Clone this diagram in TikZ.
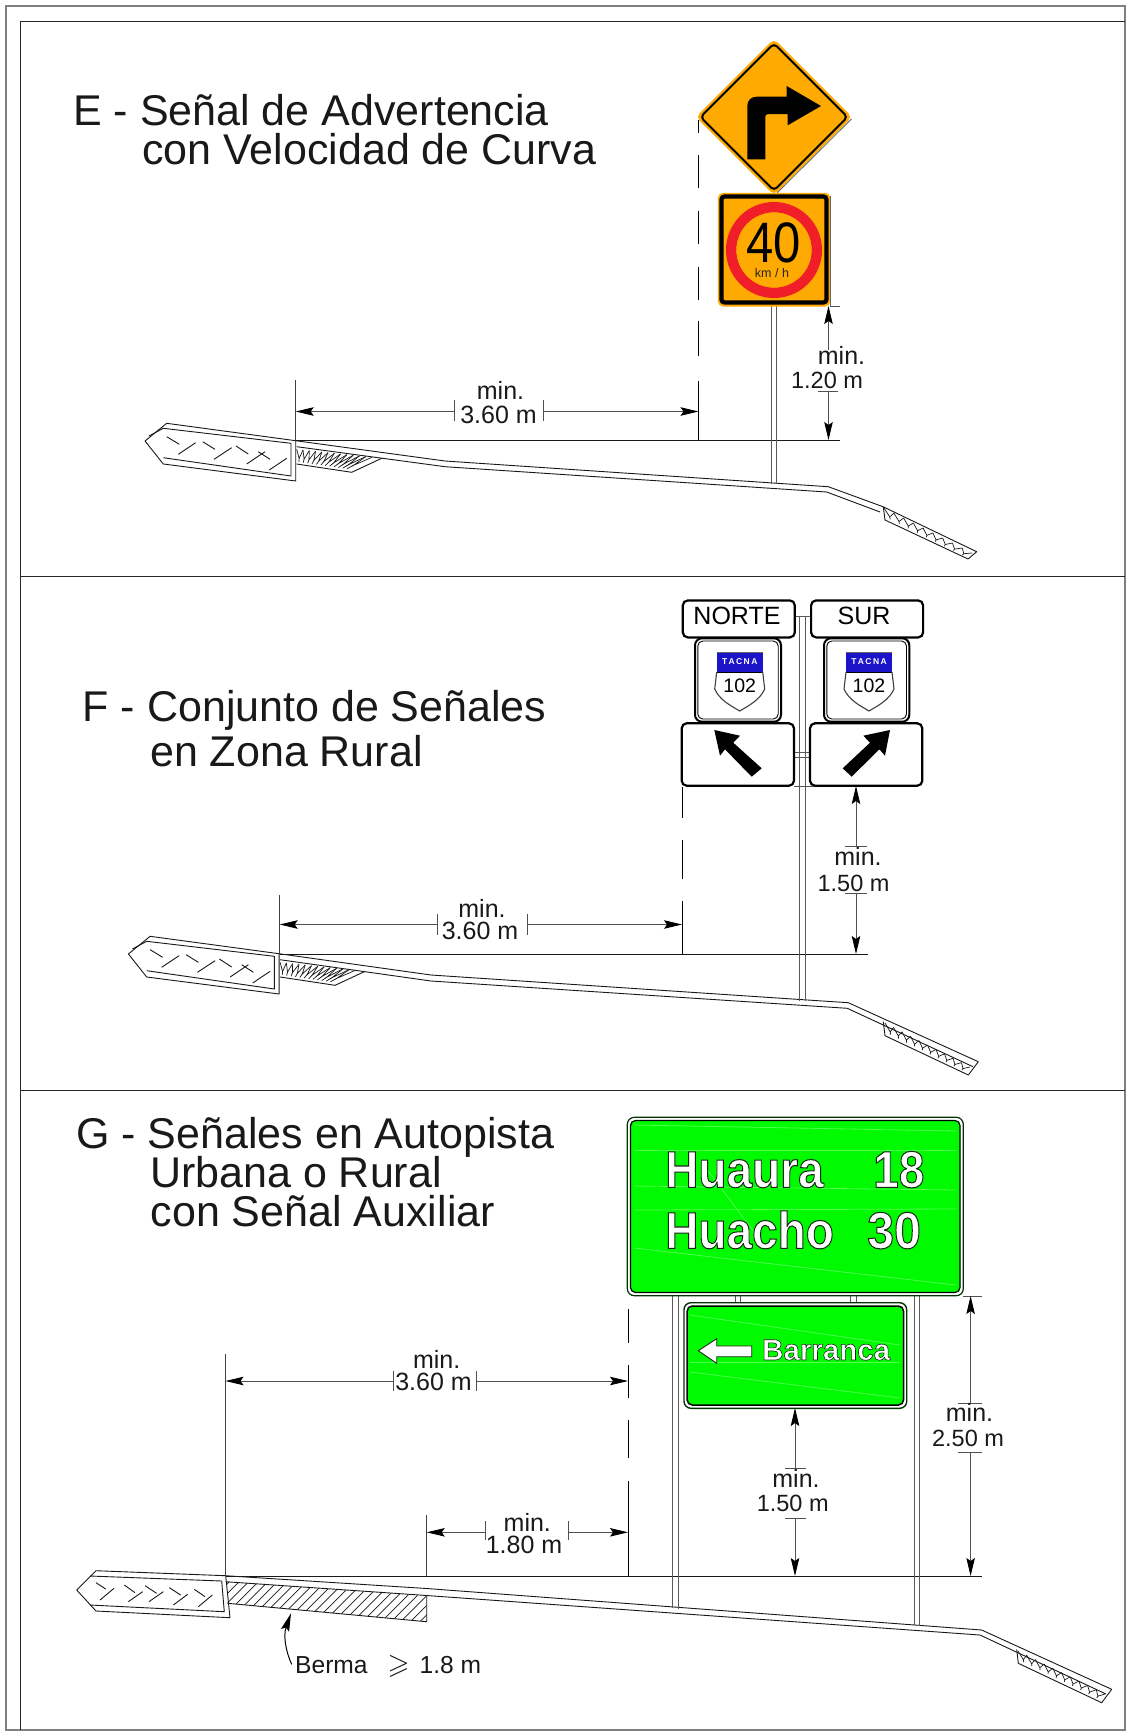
\documentclass[tikz,border=0pt]{standalone}
\usepackage{fontspec}
\usepackage{amssymb}
\usepackage{graphicx}
\setmainfont{Liberation Sans}
\newfontfamily\outlinefont[FakeBold=2]{Liberation Sans Bold}
\newfontfamily\routebold{Liberation Sans Bold}
\usetikzlibrary{arrows.meta,calc}
\definecolor{signorange}{HTML}{FFAA00}
\definecolor{signgreen}{HTML}{00FA00}
\definecolor{signstreak}{HTML}{50FF50}
\definecolor{signred}{HTML}{F01E28}
\definecolor{signblue}{HTML}{1C14C8}
\definecolor{dimgrey}{HTML}{505050}
\tikzset{
  x=1pt,y=-1pt,
  framegrey/.style={draw=black!50,line width=1.3},
  frameblack/.style={draw=black!85,line width=1},
  roadline/.style={draw=black!90,line width=.9,line join=round},
  hatchline/.style={draw=black!90,line width=.7},
  dimline/.style={draw=dimgrey,line width=.9},
  extline/.style={draw=black!75,line width=.9},
  dimarrow/.style={dimline,-{Stealth[length=18pt,width=8.5pt,inset=3pt,black]}},
  dashseg/.style={draw=black,line width=1},
  postline/.style={draw=black!65,line width=1},
  title/.style={anchor=base west,inner sep=0,font=\fontsize{43}{43}\selectfont,text=black!90},
  dimlabel/.style={anchor=base,inner sep=0,font=\fontsize{25}{25}\selectfont,text=black!90},
  dimlabelv/.style={anchor=base,inner sep=0,font=\fontsize{23.5}{25}\selectfont,text=black!90},
  whitebox/.style={draw=black,fill=white,line width=2.2,rounded corners=5pt},
  signtxt/.style={anchor=base west,inner sep=0,text=white},
  streak/.style={draw=signstreak,line width=.8},
}
% Y-shaped marks between edge a-b and edge d-c
\newcommand{\ymarks}[5]{%
  \foreach \i in {1,...,#5}{%
    \pgfmathsetmacro\ta{(\i-1)/#5}\pgfmathsetmacro\tb{(\i-.5)/#5}\pgfmathsetmacro\tc{\i/#5}%
    \coordinate (ym) at ($($(#1)!\tb!(#2)$)!.6!($(#4)!\tb!(#3)$)$);
    \draw[hatchline] ($(#1)!\ta!(#2)$) -- (ym) -- ($(#1)!\tc!(#2)$);
    \draw[hatchline] (ym) -- ($(ym)!.6!($(#4)!\tb!(#3)$)$);
  }%
}
\newcommand{\shieldsign}[2]{%
  \fill[signblue] (#1-23,652) rectangle (#1+23,672);
  \draw[draw=black!60,line width=.9] (#1-23,652) -- (#1+23,652);
  \draw[draw=black,line width=.8] (#1-23,672) -- (#1+23,672);
  \draw[draw=black!75,line width=1.1] (#1-23,672) -- (#1-25,689) .. controls (#1-20,700) and (#1-10,705) .. (#1,711) .. controls (#1+10,705) and (#1+20,700) .. (#1+25,689) -- (#1+23,672);
  \node[anchor=center,inner sep=0,text=white,font=\fontsize{8.5}{9}\selectfont\routebold] (tacna#2) at (#1,662) {T\,A\,C\,N\,A};
  \node[anchor=base,inner sep=0,font=\fontsize{19.5}{20}\selectfont] (route#2) at (#1,692) {102};
}
\begin{document}
\begin{tikzpicture}
\useasboundingbox (0,0) rectangle (1132,1733);
\fill[white] (0,0) rectangle (1132,1733);
% frames
\draw[framegrey] (6,6) -- (1125,6) -- (1125,1730) -- (6,1730) -- cycle;
\draw[frameblack] (20,21) -- (1125,21);
\draw[frameblack] (20,21) -- (20,1730);
\draw[frameblack] (20,576) -- (1125,576);
\draw[frameblack] (20,1090) -- (1125,1090);

% ============ titles
\node[title] (te1) at (73,125) {E - Señal de Advertencia};
\node[title] (te2) at (142,164) {con Velocidad de Curva};
\node[title] (tf1) at (82.5,721) {F - Conjunto de Señales};
\node[title] (tf2) at (150,766) {en Zona Rural};
\node[title] (tg1) at (76,1148) {G - Señales en Autopista};
\node[title] (tg2) at (150,1187) {Urbana o Rural};
\node[title] (tg3) at (150.5,1226) {con Señal Auxiliar};

% ============ SECTION E road
\draw[roadline] (145,441) -- (166.7,423.3) -- (295.7,440.7) -- (445,461) -- (828.3,486.7) -- (883,506.7) -- (976.7,551.7) -- (968,559) -- (885,520) -- (883.3,506.7);
\draw[roadline] (296.7,446.7) -- (445,466.7) -- (826.7,492) -- (880,512);
\draw[roadline] (145,441) -- (163.3,464) -- (295.7,481) -- (295.7,440.7);
\draw[roadline] (163.3,428.3) -- (291,443.3) -- (291,476) -- (163.3,457.7);
\draw[roadline] (163.3,428.3) -- (149,436);
\foreach \a/\b/\c/\d in {166.7/436.7/179.3/444.3,178.3/454.3/195.7/442.7,202.7/441.7/215/449.3,214/459.3/231.7/447.7,236/446/248.3/454,246.7/464/265/451.7,258.3/451.7/270/459.3,269.3/470/286.7/458.3}
  \draw[roadline] (\a,\b) -- (\c,\d);
\coordinate (ea) at (296.7,449.3); \coordinate (eb) at (372,457.3); \coordinate (ec) at (345,471.3); \coordinate (ed) at (296.7,464);
\draw[roadline] (296.7,464) -- (351.7,472.3) -- (381.7,458.3);
\ymarks{ea}{eb}{ec}{ed}{12}
\coordinate (ef) at (884,508); \coordinate (eg) at (972,553); \coordinate (eh) at (966,558); \coordinate (ei) at (886,519);
\ymarks{ef}{eg}{eh}{ei}{9}
% E ground + dims
\draw[roadline,line width=1] (295.7,440) -- (840,440);
\draw[extline] (295.7,380) -- (295.7,440);
\draw[postline] (771.7,306) -- (771.7,483.5);
\draw[postline] (776.7,306) -- (776.7,484);
\foreach \a/\b in {120/132.7,155/188,210.7/244.3,266.7/300,321/356,381/440}
  \draw[dashseg] (698.5,\a) -- (698.5,\b);
\draw[dimarrow] (454.5,411.5) -- (295.7,411.5);
\draw[dimarrow] (543,411.5) -- (698.5,411.5);
\draw[dimline] (454.5,400) -- (454.5,421);
\draw[dimline] (543,400) -- (543,421);
\node[dimlabel] (emin) at (500.5,399) {min.};
\node[dimlabel] (edim) at (498.5,423) {3.60 m};
\draw[dimline] (830,306) -- (840,306);
\draw[dimarrow] (828.5,350) -- (828.5,306);
\draw[dimarrow] (828.5,391.7) -- (828.5,440);
\draw[dimline] (818,391.7) -- (838,391.7);
\node[dimlabel] (emin2) at (841.5,364) {min.};
\node[dimlabelv] (edim2) at (827,388.5) {1.20 m};
% E signs
\draw[fill=signorange,draw=signorange,line width=1,rounded corners=5pt] (774,39.5) -- (851.5,117) -- (774,194.5) -- (696.5,117) -- cycle;
\draw[draw=black,line width=2,rounded corners=4pt] (774,43.5) -- (847.5,117) -- (774,190.5) -- (700.5,117) -- cycle;
\draw[draw=black!60,line width=.8] (777,193) -- (851.5,119);
\fill[black] (747.3,159.3) -- (765.3,159.3) -- (765.3,116.7) .. controls (765.3,115) and (766.5,114) .. (768.3,114) -- (787.7,114) -- (787.7,125.3) -- (821,106) -- (786.7,86) -- (786.7,96.7) -- (756.7,96.7) .. controls (751,96.7) and (747.3,100.5) .. (747.3,106) -- cycle;
\draw[fill=signorange,draw=signorange,line width=1,rounded corners=5pt] (718.3,193.3) rectangle (830,306);
\draw[draw=black,line width=4.2,rounded corners=3pt] (721.5,196.5) rectangle (826.5,302.5);
\draw[draw=black!60,line width=.8] (830.3,196) -- (830.3,306);
\fill[signred,even odd rule] (774,250) circle[radius=48] (774,250) circle[radius=37.7];
\draw[draw=signorange,line width=.8] (774,250) circle[radius=37];
\node[anchor=base,inner sep=0,font=\fontsize{57}{57}\selectfont] (speed) at (773.5,262) {\scalebox{.86}[1]{40}};
\node[anchor=base,inner sep=0,font=\fontsize{12.5}{13}\selectfont,text=black!85] (kmh) at (772,277.5) {km / h};

% ============ SECTION F road
\begin{scope}[shift={(-16.6,513)}]
\draw[roadline] (145,441) -- (166.7,423.3) -- (295.7,440.7);
\draw[roadline] (145,441) -- (163.3,464) -- (295.7,481) -- (295.7,440.7);
\draw[roadline] (163.3,428.3) -- (291,443.3) -- (291,476) -- (163.3,457.7);
\draw[roadline] (163.3,428.3) -- (149,436);
\foreach \a/\b/\c/\d in {166.7/436.7/179.3/444.3,178.3/454.3/195.7/442.7,202.7/441.7/215/449.3,214/459.3/231.7/447.7,236/446/248.3/454,246.7/464/265/451.7,258.3/451.7/270/459.3,269.3/470/286.7/458.3}
  \draw[roadline] (\a,\b) -- (\c,\d);
\coordinate (fa) at (296.7,449.3); \coordinate (fb) at (372,457.3); \coordinate (fc) at (345,471.3); \coordinate (fd) at (296.7,464);
\draw[roadline] (296.7,464) -- (351.7,472.3) -- (381.7,458.3);
\ymarks{fa}{fb}{fc}{fd}{12}
\end{scope}
\draw[roadline] (279.1,953.7) -- (431,975) -- (848.3,1002.7) -- (978.3,1061.7) -- (968.3,1075) -- (885,1035.7) -- (883.3,1021.7);
\draw[roadline] (280,959.7) -- (431,981) -- (847.3,1008.3) -- (973,1066.7);
\coordinate (ff) at (885,1023); \coordinate (fg) at (970,1067); \coordinate (fh) at (965,1073); \coordinate (fi) at (887,1034.5);
\ymarks{ff}{fg}{fh}{fi}{10}
\draw[roadline,line width=1] (279.7,954) -- (868,954);
\draw[extline] (279.7,895) -- (279.7,954);
\draw[postline] (799.3,617) -- (799.3,1000.5);
\draw[postline] (805,617) -- (805,1001);
\foreach \a/\b in {787/818,840/879,901/954}
  \draw[dashseg] (682,\a) -- (682,\b);
\draw[dimarrow] (437,924.5) -- (279.7,924.5);
\draw[dimarrow] (527,924.5) -- (682,924.5);
\draw[dimline] (437,914) -- (437,935);
\draw[dimline] (527,914) -- (527,935);
\node[dimlabel] (fmin) at (482,917) {min.};
\node[dimlabel] (fdim) at (480,939.5) {3.60 m};
\draw[dimarrow] (856,846) -- (856,786);
\draw[dimarrow] (856,893) -- (856,954);
\draw[dimline] (845,846) -- (867,846);
\draw[dimline] (845,893) -- (867,893);
\node[dimlabel] (fmin2) at (858,865.5) {min.};
\node[dimlabelv] (fdim2) at (853.5,891) {1.50 m};
\draw[dimline] (794,786) -- (867,786);
% F signs
\draw[postline] (794,616.7) -- (810,616.7);
\draw[postline] (794,752.7) -- (810,752.7);
\draw[postline] (794,757.7) -- (810,757.7);
\node[whitebox,minimum width=112,minimum height=37,inner sep=0,anchor=north west] (norte) at (681.7,599.3) {};
\node[anchor=base,inner sep=0,font=\fontsize{25}{25}\selectfont] (nortet) at (737,624) {NORTE};
\node[whitebox,minimum width=112,minimum height=37,inner sep=0,anchor=north west] (sur) at (810,599.3) {};
\node[anchor=base,inner sep=0,font=\fontsize{25}{25}\selectfont] (surt) at (864,624) {SUR};
\foreach \a/\b in {695/781,824/909.3}{
  \draw[draw=black,fill=white,line width=2,rounded corners=7pt] (\a,638.3) rectangle (\b,721.7);
  \draw[draw=black,line width=.9,rounded corners=5pt] (\a+2.8,641) rectangle (\b-2.8,719);
}
\shieldsign{739.7}{a}
\shieldsign{869}{b}
\draw[whitebox] (681.7,723.3) rectangle (794,785.7);
\draw[whitebox] (810,723.3) rectangle (922.3,785.7);
\fill[black] (714.3,730) -- (740,735.7) -- (733.3,742.7) -- (761.7,768.3) -- (751.7,776.7) -- (725,749.3) -- (720,755.7) -- cycle;
\fill[black] (890,730) -- (863.3,735.7) -- (870,742.7) -- (842.7,768.3) -- (851.7,776.7) -- (879.3,749.3) -- (885,755.7) -- cycle;

% ============ SECTION G road
\draw[roadline] (76.7,1590) -- (96,1570.7) -- (225.7,1575.7) -- (426.7,1588.5) -- (981.7,1630) -- (1111.7,1689.3) -- (1101.7,1702.7) -- (1018.3,1663.3) -- (1016.7,1649.3);
\draw[roadline] (225.7,1581.7) -- (426.7,1595.5) -- (980,1635) -- (1106,1694);
\draw[roadline] (76.7,1590) -- (96,1611) -- (230,1617.7) -- (225.7,1575.7);
\draw[roadline] (90,1576) -- (221.7,1581) -- (224.3,1611.7) -- (90,1605);
\foreach \a/\b/\c/\d in {108/98/137/117,120/150/162/115,193/105/225/128,205/155/248/125,255/107/290/130,267/155/310/125,328/113/362/135,340/165/383/133,403/118/435/140,415/170/457/135}
  \draw[roadline] ($(60,1550)+(\a/3,\b/3)$) -- ($(60,1550)+(\c/3,\d/3)$);
\begin{scope}
  \clip (226.7,1581.7) -- (426.7,1596) -- (426.7,1621.7) -- (227.7,1603.3) -- cycle;
  \foreach \k in {-4,...,24}
    \draw[hatchline] (210+\k*9.6,1630) -- (262+\k*9.6,1578);
\end{scope}
\draw[roadline] (227.7,1603.3) -- (426.7,1621.7) -- (426.7,1596);
\coordinate (ga) at (1018,1651); \coordinate (gb) at (1105,1694); \coordinate (gc) at (1100,1701); \coordinate (gd) at (1020,1662);
\ymarks{ga}{gb}{gc}{gd}{10}
\draw[roadline,line width=1] (225.5,1576) -- (982,1576);
\draw[extline] (225.5,1354) -- (225.5,1576);
\draw[extline] (426.7,1515) -- (426.7,1576);
\draw[postline] (672.7,1296) -- (672.7,1608);
\draw[postline] (678.3,1296) -- (678.3,1609);
\draw[postline] (914,1296) -- (914,1625);
\draw[postline] (919,1296) -- (919,1625.5);
\draw[postline] (735,1296) -- (735,1303);
\draw[postline] (740.7,1296) -- (740.7,1303);
\draw[postline] (850.7,1296) -- (850.7,1303);
\draw[postline] (856.3,1296) -- (856.3,1303);
\foreach \a/\b in {1309/1343,1365/1398,1420/1458,1481/1576}
  \draw[dashseg] (628,\a) -- (628,\b);
\draw[dimarrow] (393.5,1381) -- (225.5,1381);
\draw[dimarrow] (476.5,1381) -- (628,1381);
\draw[dimline] (393.5,1371) -- (393.5,1391);
\draw[dimline] (476.5,1371) -- (476.5,1391);
\node[dimlabel] (gmin) at (436.7,1368) {min.};
\node[dimlabel] (gdim) at (433.5,1390.5) {3.60 m};
\draw[dimarrow] (485,1532.3) -- (426.7,1532.3);
\draw[dimarrow] (568,1532.3) -- (628,1532.3);
\draw[dimline] (485,1521) -- (485,1540);
\draw[dimline] (568,1521) -- (568,1540);
\node[dimlabel] (gmin2) at (527.3,1531) {min.};
\node[dimlabel] (gdim2) at (524,1553) {1.80 m};
\draw[dimarrow] (795,1468) -- (795,1408);
\draw[dimarrow] (795,1518) -- (795,1576);
\draw[dimline] (785,1468) -- (806,1468);
\draw[dimline] (785,1518) -- (806,1518);
\node[dimlabel] (gmin3) at (796,1487) {min.};
\node[dimlabelv] (gdim3) at (792.7,1511.5) {1.50 m};
\draw[dimline] (963,1296) -- (982,1296);
\draw[dimarrow] (970.6,1403) -- (970.6,1296);
\draw[dimarrow] (970.6,1452.7) -- (970.6,1576);
\draw[dimline] (958,1403) -- (982,1403);
\draw[dimline] (958,1452.7) -- (982,1452.7);
\node[dimlabel] (gmin4) at (969.5,1421.5) {min.};
\node[dimlabelv] (gdim4) at (968,1446.5) {2.50 m};
% Berma
\node[anchor=base west,inner sep=0,font=\fontsize{24.6}{25}\selectfont,text=black!90] (berma) at (295,1673.3) {Berma\hspace{20pt}\scalebox{1.15}{$\geqslant$}\hspace{10pt}1.8 m};
\draw[draw=black,line width=1,-{Stealth[length=18pt,width=8.5pt,inset=3pt,black]}] (291.7,1664.3) .. controls (286,1652) and (283,1636) .. (291,1613.3);
% G signs
\draw[draw=black!80!green,fill=white,line width=1.2,rounded corners=7pt] (627.3,1117.3) rectangle (963.3,1295.7);
\draw[draw=black,fill=signgreen,line width=1.2,rounded corners=5pt] (630.5,1120.5) rectangle (960,1292.5);
\foreach \a/\b/\c/\d in {634/1125/956/1131,634/1150/956/1150,634/1186/956/1190,634/1210/956/1209,634/1248/956/1285,700/1160/760/1240}
  \draw[streak] (\a,\b) -- (\c,\d);
\draw[draw=black!80!green,fill=white,line width=1.4,rounded corners=7pt] (684,1302.7) rectangle (906.7,1408.3);
\draw[draw=black,fill=signgreen,line width=1.5,rounded corners=5pt] (687.2,1306) rectangle (903.5,1405);
\foreach \a/\b/\c/\d in {690/1315/900/1345,690/1362/900/1362,690/1372/900/1398}
  \draw[streak] (\a,\b) -- (\c,\d);
\node[signtxt,font=\fontsize{46}{46}\selectfont\outlinefont] (s1) at (665,1187.3) {\special{pdf:code 0.1 0.15 0.1 RG}\scalebox{1}[1.12]{Huaura}};
\node[signtxt,font=\fontsize{46}{46}\selectfont\outlinefont] (s2) at (873,1187.3) {\special{pdf:code 0.1 0.15 0.1 RG}\scalebox{1}[1.12]{18}};
\node[signtxt,font=\fontsize{46}{46}\selectfont\outlinefont] (s3) at (665,1248.3) {\special{pdf:code 0.1 0.15 0.1 RG}\scalebox{1}[1.12]{Huacho}};
\node[signtxt,font=\fontsize{46}{46}\selectfont\outlinefont] (s4) at (867,1248.3) {\special{pdf:code 0.1 0.15 0.1 RG}\scalebox{1.05}[1.12]{30}};
\node[signtxt,font=\fontsize{29.5}{30}\selectfont\outlinefont] (s5) at (762,1360) {\special{pdf:code 0.1 0.15 0.1 RG}Barranca};
\draw[draw=black!85,fill=white,line width=.9] (698.3,1350.7) -- (716.7,1338.7) -- (716.7,1346) -- (751.7,1346) -- (751.7,1356.7) -- (716.7,1356.7) -- (716.7,1363.3) -- cycle;
\end{tikzpicture}
\end{document}
